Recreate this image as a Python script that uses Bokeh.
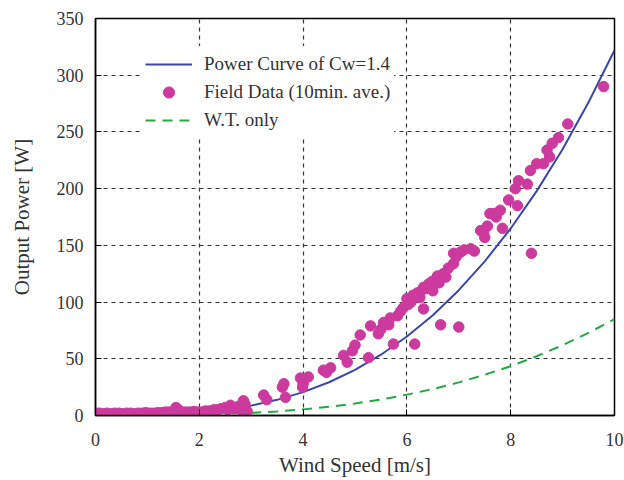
from bokeh.plotting import figure
from bokeh.models import Range1d, FixedTicker, Legend, LegendItem
from bokeh.embed import file_html
from bokeh.resources import INLINE

# Power curve of Cw=1.4
curve_v = [0, 0.5, 1, 1.5, 2, 2.5, 3, 3.5, 4, 4.5, 5, 5.5, 6, 6.5, 7, 7.5, 8, 8.5, 9, 9.5, 10]
curve_p = [0, 0.04, 0.3, 1.1, 2.6, 5.0, 8.7, 13.8, 20.6, 29.3, 40.3, 53.6, 69.6, 88.4, 110.5, 135.9, 164.9, 197.8, 234.8, 276.2, 322]

# W.T. only
wt_v = [3.0, 3.5, 4, 4.5, 5, 5.5, 6, 6.5, 7, 7.5, 8, 8.5, 9, 9.5, 10]
wt_p = [2.3, 3.6, 5.4, 7.7, 10.6, 14.1, 18.4, 23.3, 29.2, 35.9, 43.5, 52.2, 62.0, 72.9, 85]

# Field data (10 min. average)
field_v = [0.02, 0.08, 0.15, 0.22, 0.3, 0.37, 0.45, 0.52, 0.6, 0.68, 0.75, 0.82, 0.9, 0.97,
           1.05, 1.12, 1.2, 1.28, 1.35, 1.42, 1.5, 1.55, 1.6, 1.68, 1.75, 1.82, 1.9, 1.98,
           2.05, 2.12, 2.2, 2.28, 2.35, 2.42, 2.5, 2.55, 2.6, 2.68, 2.75, 2.8, 2.85, 2.88, 2.92,
           3.24, 3.3, 3.6, 3.63, 3.66, 3.95, 3.99, 4.0, 4.1, 4.39, 4.45, 4.53, 4.78, 4.85,
           4.95, 5.0, 5.1, 5.26, 5.3, 5.45, 5.5, 5.55, 5.65, 5.68, 5.74, 5.82, 5.88, 5.93,
           6.0, 6.03, 6.08, 6.12, 6.15, 6.2, 6.25, 6.28, 6.32, 6.32, 6.38, 6.42, 6.48, 6.5,
           6.55, 6.59, 6.62, 6.65, 6.7, 6.75, 6.8, 6.9, 6.9, 6.95, 7.0, 7.03, 7.1, 7.23, 7.3,
           7.42, 7.48, 7.5, 7.55, 7.6, 7.67, 7.72, 7.8, 7.84, 7.96, 8.09, 8.13, 8.15, 8.32,
           8.38, 8.4, 8.5, 8.63, 8.7, 8.75, 8.8, 8.92, 9.1, 9.79]
field_p = [2, 2, 1.5, 2, 1.5, 2, 2, 1.5, 2, 2, 1.5, 2, 2, 2.5,
           2, 2, 2.5, 2.5, 3, 3, 3, 7, 5, 3, 3, 3, 3.5, 3,
           3, 4, 4, 5, 5, 6, 7, 5, 9, 6, 8, 5, 13, 10, 4,
           18, 14, 25, 28, 16, 33, 25, 28, 34, 40, 38, 42, 53, 47,
           57, 62, 71, 51, 79, 72, 76, 82, 80, 86, 63, 88, 92, 95,
           103, 98, 100, 106, 63, 108, 104, 110, 113, 94, 112, 116, 118, 110,
           120, 123, 117, 80, 125, 122, 130, 134, 143, 140, 78, 144, 146, 147, 145,
           163, 161, 157, 167, 178, 178, 175, 181, 165, 190, 200, 185, 207, 204,
           216, 143, 222, 222, 234, 228, 240, 245, 257, 290]

x_ticks = [0, 2, 4, 6, 8, 10]
y_ticks = [0, 50, 100, 150, 200, 250, 300, 350]

FONT = "Liberation Serif"

p = figure(width=624, height=480, output_backend="svg", toolbar_location=None,
           x_range=Range1d(0, 10), y_range=Range1d(0, 350),
           min_border_left=95, min_border_right=10, min_border_top=18, min_border_bottom=65)

p.outline_line_color = "black"
p.outline_line_width = 1.5
p.background_fill_color = "white"
p.border_fill_color = "white"

for ax in (p.xaxis[0], p.yaxis[0]):
    ax.major_label_text_font = FONT
    ax.major_label_text_font_size = "18px"
    ax.major_label_text_color = "#333333"
    ax.axis_label_text_font = FONT
    ax.axis_label_text_font_size = "21px"
    ax.axis_label_text_font_style = "normal"
    ax.axis_label_text_color = "#333333"
    ax.axis_line_color = "black"
    ax.axis_line_width = 1.5
    ax.major_tick_in = 6
    ax.major_tick_out = 0
    ax.major_tick_line_color = "black"
    ax.minor_tick_line_color = None

p.xaxis.ticker = FixedTicker(ticks=x_ticks)
p.yaxis.ticker = FixedTicker(ticks=y_ticks)
p.xaxis.axis_label = "Wind Speed [m/s]"
p.yaxis.axis_label = "Output Power [W]"
p.xaxis.major_label_standoff = 17
p.yaxis.major_label_standoff = 12
p.xaxis.axis_label_standoff = 4
p.yaxis.axis_label_standoff = 20

p.grid.grid_line_color = "#333333"
p.grid.grid_line_dash = "4 4"
p.grid.grid_line_width = 1.2
p.xgrid.ticker = FixedTicker(ticks=x_ticks)
p.ygrid.ticker = FixedTicker(ticks=y_ticks)

r_wt = p.line(wt_v, wt_p, line_color="#22AA44", line_width=2, line_dash="10 7")
r_curve = p.line(curve_v, curve_p, line_color="#3A47A8", line_width=2)
r_field = p.scatter(field_v, field_p, size=10.5, fill_color="#CC3A9E", line_color="#CC3A9E")

legend = Legend(items=[
    LegendItem(label="Power Curve of Cw=1.4", renderers=[r_curve]),
    LegendItem(label="Field Data (10min. ave.)", renderers=[r_field]),
    LegendItem(label="W.T. only", renderers=[r_wt]),
], location=(46, 277))
legend.label_text_font = FONT
legend.label_text_font_size = "19px"
legend.label_text_color = "#333333"
legend.glyph_width = 47
legend.glyph_height = 28
legend.label_height = 28
legend.spacing = 0
legend.label_standoff = 12
legend.padding = 4
legend.margin = 0
legend.border_line_alpha = 0
legend.background_fill_color = "white"
legend.background_fill_alpha = 1
p.add_layout(legend)

open("out.html", "w").write(file_html(p, INLINE))
